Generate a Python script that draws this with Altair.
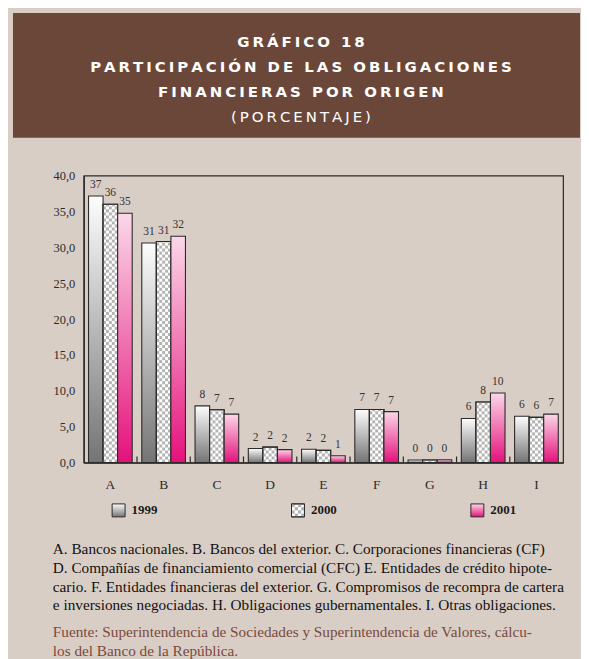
import altair as alt
import pandas as pd

# ---------------- data ----------------
categories = ["A", "B", "C", "D", "E", "F", "G", "H", "I"]
years = ["1999", "2000", "2001"]
values_1999 = [37.15, 30.6, 7.9, 1.95, 1.85, 7.4, 0.35, 6.15, 6.45]
values_2000 = [36.0, 30.8, 7.35, 2.15, 1.7, 7.4, 0.35, 8.45, 6.3]
values_2001 = [34.75, 31.55, 6.75, 1.8, 0.95, 7.1, 0.4, 9.7, 6.75]
y_ticks = [0, 5, 10, 15, 20, 25, 30, 35, 40]

title_lines = [
    "GRÁFICO 18",
    "PARTICIPACIÓN DE LAS OBLIGACIONES",
    "FINANCIERAS POR ORIGEN",
    "(PORCENTAJE)",
]
note_lines = [
    "A. Bancos nacionales. B. Bancos del exterior. C. Corporaciones financieras (CF)",
    "D. Compañías de financiamiento comercial (CFC) E. Entidades de crédito hipote-",
    "cario. F. Entidades financieras del exterior. G. Compromisos de recompra de cartera",
    "e inversiones negociadas. H. Obligaciones gubernamentales. I. Otras obligaciones.",
]
source_lines = [
    "Fuente: Superintendencia de Sociedades y Superintendencia de Valores, cálcu-",
    "los del Banco de la República.",
]

# ---------------- style ----------------
BROWN = "#6b4739"
BEIGE = "#d9cec5"
INK = "#2b2b2b"
SOURCE = "#7a4a3f"
CHECK = "#b3b3b3"
SERIF = "Liberation Serif"
SANS = "DejaVu Sans"
CELL = 0.42  # checker cell height in data units

grad1999 = {"gradient": "linear", "x1": 0, "y1": 0, "x2": 0, "y2": 1,
            "stops": [{"offset": 0, "color": "#fdfdfd"}, {"offset": 1, "color": "#747474"}]}
grad2001 = {"gradient": "linear", "x1": 0, "y1": 0, "x2": 0, "y2": 1,
            "stops": [{"offset": 0, "color": "#fbd8e8"}, {"offset": 1, "color": "#e5117c"}]}

W_MAIN, H_MAIN = 481, 288
LEFT = 71            # room left of the plot (axis area)
W_RIGHT = 498        # from plot origin to right edge of the block
H_BAND = 125         # brown header band
H_HEADER = 155       # band + gap above the plot

rows = []
for yr, vals in zip(years, [values_1999, values_2000, values_2001]):
    for c, v in zip(categories, vals):
        rows.append({"cat": c, "year": yr, "v": v})
df = pd.DataFrame(rows)

# ---------------- header ----------------
hdr = pd.DataFrame({"i": list(range(len(title_lines))), "t": title_lines})
band = alt.Chart(hdr).transform_filter("datum.i == 0").mark_rect(color=BROWN).encode(
    x=alt.value(-LEFT), x2=alt.value(W_RIGHT), y=alt.value(0), y2=alt.value(H_BAND))
hbase = alt.Chart(hdr).transform_calculate(
    s="join(split(datum.t, ''), '\u2009')"
).encode(
    x=alt.value(218),
    y=alt.Y("i:O", axis=None,
            scale=alt.Scale(type="point", domain=[0, 1, 2, 3], padding=1.07, align=0.577,
                            range=[0, H_BAND])),
    text="s:N",
)
h0 = hbase.transform_filter("datum.i == 0").mark_text(
    font=SANS, fontSize=15, fontWeight="bold", color="white", baseline="middle")
h12 = hbase.transform_filter("datum.i == 1 || datum.i == 2").mark_text(
    font=SANS, fontSize=15, fontWeight="bold", color="white", baseline="middle")
h3 = hbase.transform_filter("datum.i == 3").mark_text(
    font=SANS, fontSize=15, color="white", baseline="middle")
header = alt.layer(band, h0, h12, h3).properties(width=W_RIGHT, height=H_HEADER)

# ---------------- main chart ----------------
x_axis = alt.Axis(title=None, labelAngle=0, ticks=False, labelPadding=15,
                  labelFont=SERIF, labelFontSize=13.5, labelColor=INK,
                  domainColor=INK, domainWidth=1.2)
y_axis = alt.Axis(title=None, values=y_ticks, ticks=False, grid=False, labelOverlap=False,
                  labelExpr="replace(format(datum.value, '.1f'), '.', ',')",
                  labelFont=SERIF, labelFontSize=12.5, labelColor=INK,
                  labelPadding=9, minExtent=64, domainColor=INK, domainWidth=1.4)
x_scale = alt.Scale(domain=categories, paddingInner=0.18, paddingOuter=0.09)
y_scale = alt.Scale(domain=[0, 40], nice=False)

X = alt.X("cat:N", sort=categories, scale=x_scale, axis=x_axis)
Y = alt.Y("v:Q", scale=y_scale, axis=y_axis)
XO = alt.XOffset("year:N", sort=years,
                 scale=alt.Scale(type="band", domain=years, paddingInner=0, paddingOuter=0))

base = alt.Chart(df)
bars1999 = base.transform_filter("datum.year == '1999'").mark_bar(
    fill=grad1999, stroke=INK, strokeWidth=1.1).encode(x=X, xOffset=XO, y=Y)
bars2000 = base.transform_filter("datum.year == '2000'").mark_bar(
    fill="white", stroke=INK, strokeWidth=1.1).encode(x=X, xOffset=XO, y=Y)
checker = base.transform_filter("datum.year == '2000'").transform_calculate(
    r=f"sequence(0, ceil(datum.v / {CELL}))"
).transform_flatten(["r"]).transform_calculate(
    c="sequence(0, 5)"
).transform_flatten(["c"]).transform_filter(
    "(datum.r + datum.c) % 2 == 0"
).transform_calculate(
    y0=f"datum.r * {CELL}",
    y1=f"min(datum.r * {CELL} + {CELL}, datum.v)",
    sc="datum.c + 5",
).mark_rect(color=CHECK).encode(
    x=X,
    xOffset=alt.XOffset("sc:O", scale=alt.Scale(type="band", domain=list(range(15)),
                                                paddingInner=0, paddingOuter=0)),
    y=alt.Y("y0:Q", scale=y_scale, axis=y_axis),
    y2="y1:Q",
)
outline2000 = base.transform_filter("datum.year == '2000'").mark_bar(
    fill="white", fillOpacity=0, stroke=INK, strokeWidth=1.1).encode(x=X, xOffset=XO, y=Y)
bars2001 = base.transform_filter("datum.year == '2001'").mark_bar(
    fill=grad2001, stroke=INK, strokeWidth=1.1).encode(x=X, xOffset=XO, y=Y)
labels = base.mark_text(baseline="alphabetic", dy=-8, font=SERIF, fontSize=11.5,
                        color="#333333").encode(
    x=X, xOffset=XO, y=Y, text=alt.Text("v:Q", format=".0f"))
ticks = base.transform_filter("datum.year == '1999' && datum.cat != 'A'").transform_calculate(
    t0="0", t1="0.85"
).mark_rule(color=INK, strokeWidth=1.2, xOffset=-0.09 * W_MAIN / 9).encode(
    x=alt.X("cat:N", sort=categories, scale=x_scale, axis=x_axis, bandPosition=0),
    y=alt.Y("t0:Q", scale=y_scale, axis=y_axis), y2="t1:Q")

main = alt.layer(bars1999, bars2000, checker, outline2000, bars2001, labels, ticks).resolve_scale(
    xOffset="independent"
).properties(
    width=W_MAIN, height=H_MAIN,
    view=alt.ViewBackground(stroke=INK, strokeWidth=1.2, fill="transparent"),
)

# ---------------- legend ----------------
lg = pd.DataFrame({"year": years})
lbase = alt.Chart(lg).encode(
    x=alt.X("year:N", sort=years, axis=None,
            scale=alt.Scale(type="point", domain=years, padding=0.2)))
SX, SY = -1, 10
sw1999 = lbase.transform_filter("datum.year == '1999'").mark_square(
    size=169, fill=grad1999, stroke=INK, strokeWidth=1, opacity=1, xOffset=SX, yOffset=SY)
sw2000 = lbase.transform_filter("datum.year == '2000'").mark_square(
    size=169, fill="white", stroke=INK, strokeWidth=1, opacity=1, xOffset=SX, yOffset=SY)
cells = []
offs = [-4.875, -1.625, 1.625, 4.875]
for ri, oy in enumerate(offs):
    for ci, ox in enumerate(offs):
        if (ri + ci) % 2 == 0:
            cells.append(lbase.transform_filter("datum.year == '2000'").mark_square(
                size=10.5, fill=CHECK, strokeWidth=0, opacity=1,
                xOffset=SX + ox, yOffset=SY + oy))
sw2000o = lbase.transform_filter("datum.year == '2000'").mark_square(
    size=169, fill="white", fillOpacity=0, stroke=INK, strokeWidth=1, opacity=1,
    xOffset=SX, yOffset=SY)
sw2001 = lbase.transform_filter("datum.year == '2001'").mark_square(
    size=169, fill=grad2001, stroke=INK, strokeWidth=1, opacity=1, xOffset=SX, yOffset=SY)
ltext = lbase.mark_text(align="left", baseline="middle", dx=12, dy=SY, font=SERIF,
                        fontWeight="bold", fontSize=13, color="#1a1a1a").encode(text="year:N")
legend = alt.layer(sw1999, sw2000, *cells, sw2000o, sw2001, ltext).properties(
    width=432, height=14)

# ---------------- notes ----------------
nt = pd.DataFrame({"i": list(range(len(note_lines))), "t": note_lines})
notes = alt.Chart(nt).mark_text(align="left", baseline="middle", font=SERIF,
                                fontSize=15.3, color="#111111").encode(
    x=alt.value(-31),
    y=alt.Y("i:O", axis=None, scale=alt.Scale(type="point", padding=0.947, align=0.79)),
    text="t:N",
).properties(width=W_RIGHT - 10, height=93)

st = pd.DataFrame({"i": list(range(len(source_lines))), "t": source_lines})
sources = alt.Chart(st).mark_text(align="left", baseline="middle", font=SERIF,
                                  fontSize=15.3, color=SOURCE).encode(
    x=alt.value(-31),
    y=alt.Y("i:O", axis=None, scale=alt.Scale(type="point", padding=0.645, align=0.673)),
    text="t:N",
).properties(width=W_RIGHT - 10, height=43)

chart = alt.vconcat(header, main, legend, notes, sources, spacing=0).configure(
    background=BEIGE,
    padding={"left": 4, "top": 3, "right": 0, "bottom": 0},
).configure_view(stroke="transparent")

chart.save("out.html", embed_options={"renderer": "svg", "actions": False})
